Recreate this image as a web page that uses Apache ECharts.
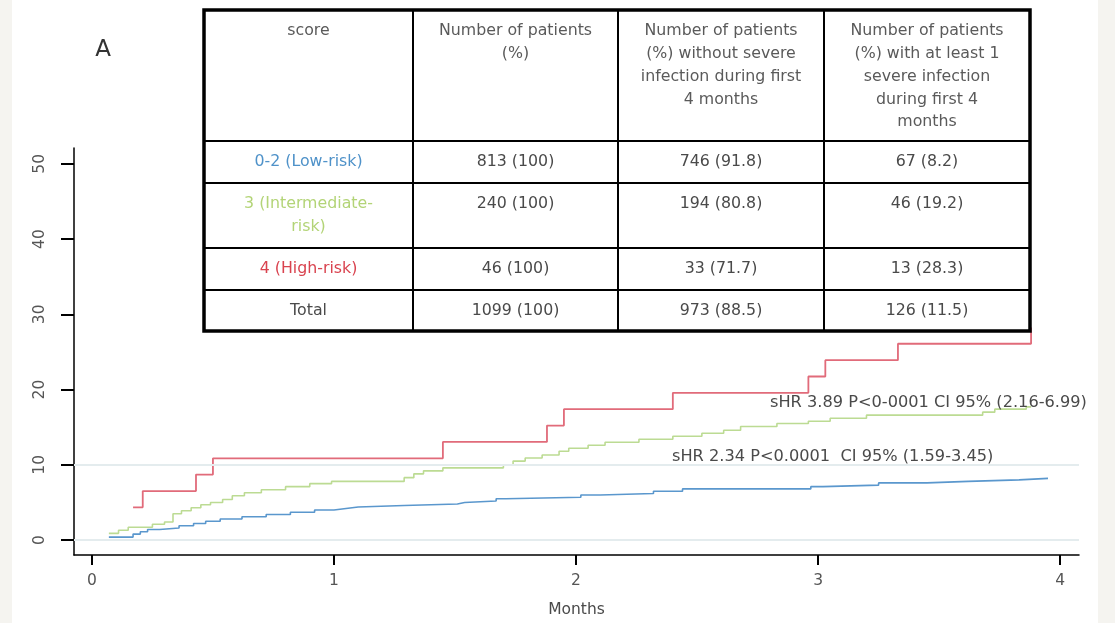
<!DOCTYPE html>
<html>
<head>
<meta charset="utf-8">
<script src="https://cdn.jsdelivr.net/npm/echarts@6/dist/echarts.min.js"></script>
<style>
html,body{margin:0;padding:0;background:#f5f4f0;}
#c{width:1115px;height:623px;}
</style>
</head>
<body>
<div id="c"></div>
<script>
// ---- data ----
const xTicks = [0, 1, 2, 3, 4];
const yTicks = [0, 10, 20, 30, 40, 50];
const refLines = [0, 10];

const highRisk = [[0.17,4.35],[0.21,6.52],[0.43,8.70],[0.50,10.87],[1.45,13.04],[1.88,15.22],[1.95,17.39],[2.40,19.57],[2.96,21.74],[3.03,23.91],[3.33,26.09],[3.88,28.26]];
const intermediateRisk = [[0.07,0.9],[0.11,1.3],[0.15,1.7],[0.25,2.1],[0.30,2.4],[0.335,3.5],[0.37,3.9],[0.41,4.3],[0.45,4.7],[0.49,5.0],[0.54,5.4],[0.58,5.9],[0.63,6.3],[0.70,6.7],[0.80,7.1],[0.90,7.5],[0.99,7.8],[1.29,8.3],[1.33,8.8],[1.37,9.2],[1.45,9.6],[1.70,10.0],[1.74,10.5],[1.79,10.9],[1.86,11.3],[1.93,11.8],[1.97,12.2],[2.05,12.6],[2.12,13.0],[2.26,13.4],[2.40,13.8],[2.52,14.2],[2.61,14.6],[2.68,15.1],[2.83,15.5],[2.96,15.8],[3.05,16.2],[3.20,16.6],[3.68,17.0],[3.73,17.4],[3.86,17.7],[3.88,17.7]];
const lowRisk = [[0.07,0.4],[0.17,0.8],[0.20,1.1],[0.23,1.4],[0.28,1.6],[0.36,1.9],[0.42,2.2],[0.47,2.5],[0.53,2.8],[0.62,3.1],[0.72,3.4],[0.82,3.7],[0.92,4.0],[1.00,4.2],[1.05,4.4],[1.10,4.6],[1.29,4.8],[1.51,5.0],[1.54,5.2],[1.67,5.5],[1.71,5.7],[2.02,6.0],[2.10,6.2],[2.32,6.5],[2.44,6.8],[2.97,7.1],[3.02,7.3],[3.25,7.6],[3.45,7.8],[3.62,8.0],[3.83,8.2],[3.95,8.2]];

const tableHeaders = ["score", "Number of patients\n(%)", "Number of patients\n(%) without severe\ninfection during first\n4 months", "Number of patients\n(%) with at least 1\nsevere infection\nduring first 4\nmonths"];
const rowLabels = ["0-2 (Low-risk)", "3 (Intermediate-\nrisk)", "4 (High-risk)", "Total"];
const colPatients = ["813 (100)", "240 (100)", "46 (100)", "1099 (100)"];
const colWithout = ["746 (91.8)", "194 (80.8)", "33 (71.7)", "973 (88.5)"];
const colWith = ["67 (8.2)", "46 (19.2)", "13 (28.3)", "126 (11.5)"];
const annotations = ["sHR 3.89 P<0-0001 CI 95% (2.16-6.99)", "sHR 2.34 P<0.0001  CI 95% (1.59-3.45)"];
const panelLabel = "A";
const xName = "Months";

// ---- styles ----
const FONT = "DejaVu Sans, Arial, sans-serif";
const cRed = "#e16b7a", cGreen = "#bcdb93", cBlue = "#5a97cd";
const labelColors = ["#4f92c9", "#b3d477", "#d9434f", "#4a4a4a"];

const chart = echarts.init(document.getElementById('c'), null, {renderer: 'canvas'});

// table geometry (layout)
const colX = [204, 413, 618, 824, 1030];
const rowY = [10, 141, 183, 248, 290, 331];

const graphics = [];
graphics.push({type:'rect', z:-10, silent:true, shape:{x:12,y:0,width:1086,height:623}, style:{fill:'#ffffff'}});
graphics.push({type:'text', z:100, style:{text:panelLabel, x:103, y:50, align:'center', verticalAlign:'middle', font:'23px '+FONT, fill:'#333'}});
graphics.push({type:'rect', z:100, shape:{x:colX[0], y:rowY[0], width:colX[4]-colX[0], height:rowY[5]-rowY[0]}, style:{fill:'#fff', stroke:'#000', lineWidth:3.5}});
for (let i = 1; i < 4; i++) {
  graphics.push({type:'line', z:101, shape:{x1:colX[i], y1:rowY[0], x2:colX[i], y2:rowY[5]}, style:{stroke:'#000', lineWidth:2}});
}
for (let j = 1; j < 5; j++) {
  graphics.push({type:'line', z:101, shape:{x1:colX[0], y1:rowY[j], x2:colX[4], y2:rowY[j]}, style:{stroke:'#000', lineWidth:2}});
}
function cellText(txt, ci, ri, color) {
  const cx = (colX[ci] + colX[ci+1]) / 2;
  graphics.push({type:'text', z:102, style:{text:txt, x:cx, y:rowY[ri]+10, align:'center', verticalAlign:'top', font:'15.8px '+FONT, lineHeight:22.7, fill:color}});
}
tableHeaders.forEach((h, i) => cellText(h, i, 0, '#5a5a5a'));
for (let r = 0; r < 4; r++) {
  cellText(rowLabels[r], 0, r+1, labelColors[r]);
  cellText(colPatients[r], 1, r+1, '#4a4a4a');
  cellText(colWithout[r], 2, r+1, '#4a4a4a');
  cellText(colWith[r], 3, r+1, '#4a4a4a');
}
graphics.push({type:'text', z:50, style:{text:annotations[0], x:770, y:403, align:'left', verticalAlign:'middle', font:'16.2px '+FONT, fill:'#4a4a4a'}});
graphics.push({type:'text', z:50, style:{text:annotations[1], x:672, y:457, align:'left', verticalAlign:'middle', font:'16.2px '+FONT, fill:'#4a4a4a'}});

const option = {
  animation: false,
  backgroundColor: 'transparent',
  grid: {left: 74, right: 36, top: 148, bottom: 66},
  xAxis: {
    type: 'value', min: -0.074, max: 4.078,
    name: xName, nameLocation: 'middle', nameGap: 47,
    nameTextStyle: {fontSize: 15.5, color: '#4a4a4a', fontFamily: FONT},
    axisLine: {onZero: false, lineStyle: {color: '#000', width: 1.5}},
    axisTick: {show: true, length: 10, customValues: xTicks, lineStyle: {color: '#000', width: 2}},
    axisLabel: {customValues: xTicks, margin: 18, fontSize: 15.5, color: '#555', fontFamily: FONT},
    splitLine: {show: false}
  },
  yAxis: {
    type: 'value', min: -1.98, max: 52.1,
    axisLine: {show: true, onZero: false, lineStyle: {color: '#000', width: 1.5}},
    axisTick: {show: true, length: 13, customValues: yTicks, lineStyle: {color: '#000', width: 2}},
    axisLabel: {customValues: yTicks, rotate: 90, margin: 26, fontSize: 15.5, color: '#555', fontFamily: FONT},
    splitLine: {show: false}
  },
  series: [
    {type:'line', data: [], markLine: {silent:true, symbol:'none', label:{show:false}, lineStyle:{color:'#e4ecee', width:2, type:'solid'}, data: refLines.map(v => ({yAxis: v}))}, z:1},
    {type:'line', name:'low', step:'end', data: lowRisk, showSymbol:false, lineStyle:{color:cBlue, width:1.6}, z:3},
    {type:'line', name:'intermediate', step:'end', data: intermediateRisk, showSymbol:false, lineStyle:{color:cGreen, width:1.6}, z:3},
    {type:'line', name:'high', step:'end', data: highRisk, showSymbol:false, lineStyle:{color:cRed, width:1.8}, z:4}
  ],
  graphic: graphics
};
chart.setOption(option);
</script>
</body>
</html>
